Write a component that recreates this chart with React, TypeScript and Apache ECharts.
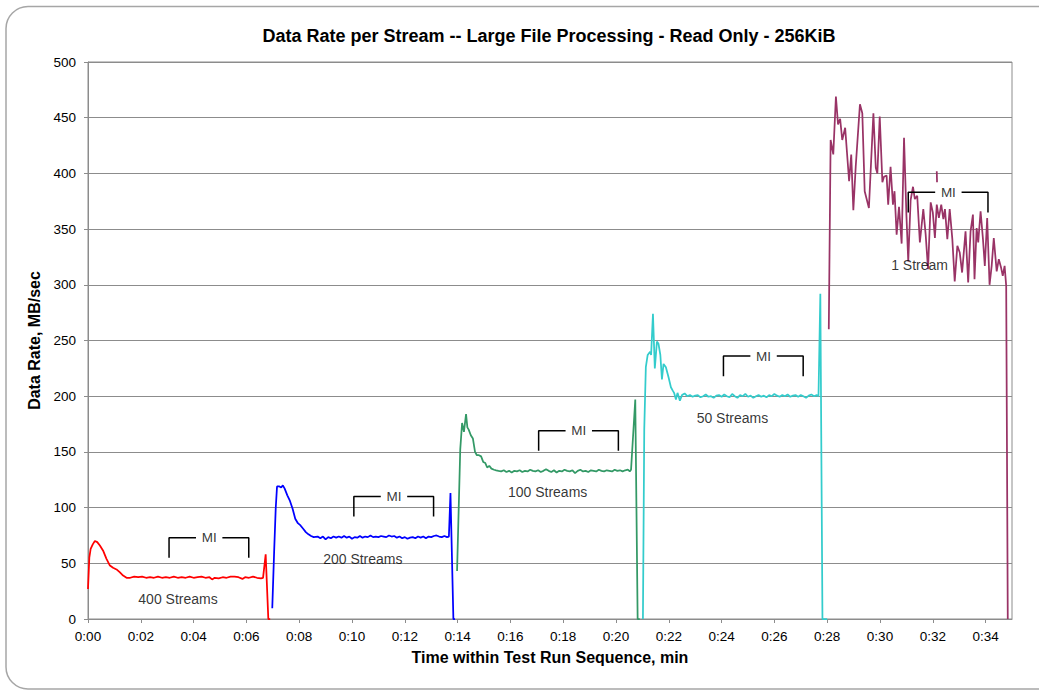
import React, { useEffect, useRef } from "react";
import * as echarts from "echarts";

const FONT = '"Liberation Sans", Arial, Helvetica, sans-serif';

const titleText = "Data Rate per Stream -- Large File Processing - Read Only - 256KiB";
const xAxisName = "Time within Test Run Sequence, min";
const yAxisName = "Data Rate, MB/sec";

// [time (min), rate (MB/sec)]
const stream400: number[][] = [
  [0, 27], [0.05, 55], [0.1, 63], [0.18, 67], [0.26, 70], [0.35, 69], [0.45, 66], [0.58, 61],
  [0.7, 54], [0.83, 48], [0.95, 46], [1.08, 44.5], [1.2, 42], [1.33, 39], [1.46, 37], [1.6, 37],
  [1.75, 38], [1.9, 37.5], [2.05, 38], [2.2, 37], [2.35, 37.5], [2.5, 37], [2.65, 38], [2.8, 37],
  [2.95, 37.5], [3.1, 37], [3.25, 38], [3.4, 37], [3.55, 37.5], [3.7, 37], [3.85, 38], [4.0, 37],
  [4.15, 37.5], [4.3, 38], [4.45, 37], [4.6, 37.5], [4.7, 35.5], [4.8, 37], [4.95, 36.5],
  [5.1, 37.5], [5.25, 37], [5.4, 38], [5.55, 38], [5.7, 37.5], [5.85, 36], [5.95, 37.5],
  [6.1, 37], [6.25, 38], [6.4, 37], [6.55, 36.5], [6.63, 37], [6.73, 58], [6.83, 0], [6.9, 0],
];

const stream200: number[][] = [
  [6.98, 9.6], [7.05, 60], [7.11, 99], [7.16, 119], [7.25, 119], [7.32, 118], [7.38, 120],
  [7.45, 117], [7.55, 111], [7.65, 106], [7.75, 99], [7.85, 90], [7.95, 86], [8.05, 84],
  [8.15, 81], [8.25, 78], [8.35, 76], [8.45, 74.5], [8.55, 73.5], [8.7, 74], [8.8, 72.5],
  [8.9, 74], [9.0, 71.5], [9.1, 73.5], [9.2, 72.5], [9.3, 74], [9.4, 73], [9.5, 74], [9.6, 73],
  [9.7, 74.5], [9.8, 73], [9.9, 74], [10.0, 72], [10.1, 73.5], [10.2, 73], [10.3, 74.5],
  [10.4, 73], [10.5, 74], [10.6, 73.5], [10.7, 75], [10.8, 73.5], [10.9, 74], [11.0, 73.5],
  [11.1, 74.5], [11.2, 74], [11.3, 73.5], [11.4, 75], [11.5, 74], [11.6, 74.5], [11.7, 73],
  [11.8, 74], [11.9, 72.5], [12.0, 73.5], [12.1, 72], [12.2, 73], [12.3, 73.5], [12.4, 72.5],
  [12.5, 74], [12.6, 73], [12.7, 74], [12.8, 72.5], [12.9, 74], [13.0, 73.5], [13.1, 74.5],
  [13.2, 75], [13.3, 74], [13.4, 73.5], [13.5, 74.5], [13.6, 73.5], [13.67, 74], [13.73, 113],
  [13.84, 0], [13.9, 0],
];

const stream100: number[][] = [
  [13.98, 43], [14.1, 152], [14.17, 176], [14.24, 168], [14.32, 184], [14.37, 172], [14.42, 170],
  [14.5, 165], [14.58, 162], [14.66, 150], [14.73, 147], [14.81, 147], [14.89, 146], [14.97, 141],
  [15.05, 140], [15.12, 136], [15.2, 137.5], [15.28, 135], [15.38, 134], [15.46, 133.5],
  [15.55, 133], [15.65, 132.5], [15.75, 133.5], [15.85, 132], [15.95, 133], [16.05, 131.5],
  [16.15, 133], [16.25, 132.5], [16.35, 133.5], [16.45, 132], [16.55, 133], [16.65, 132.5],
  [16.75, 134], [16.85, 133], [16.95, 132.5], [17.05, 133.5], [17.15, 132], [17.25, 133],
  [17.35, 134.5], [17.45, 133], [17.55, 132], [17.65, 133.5], [17.75, 131.5], [17.85, 133],
  [17.95, 132.5], [18.05, 134], [18.15, 133], [18.25, 132.5], [18.35, 133.5], [18.45, 131],
  [18.55, 133], [18.65, 134], [18.75, 132.5], [18.85, 133], [18.95, 132], [19.05, 133.5],
  [19.15, 133], [19.25, 132.5], [19.35, 134], [19.45, 133], [19.55, 132.5], [19.65, 133.5],
  [19.75, 133], [19.85, 132.5], [19.95, 134], [20.05, 133], [20.15, 133.5], [20.25, 132.5],
  [20.35, 133.5], [20.45, 134], [20.52, 132.5], [20.57, 134], [20.73, 197], [20.82, 0], [20.9, 0],
];

const stream50: number[][] = [
  [21.02, 0], [21.07, 170], [21.13, 226], [21.2, 237], [21.29, 240], [21.33, 237], [21.4, 274],
  [21.47, 225], [21.55, 249], [21.61, 247], [21.68, 237], [21.74, 215], [21.8, 229], [21.89, 226],
  [21.99, 217], [22.08, 208], [22.15, 205], [22.2, 203], [22.27, 197], [22.33, 203], [22.42, 196],
  [22.5, 201], [22.6, 202.5], [22.7, 200], [22.8, 201], [22.9, 199.5], [23.0, 200.5], [23.1, 201],
  [23.2, 199], [23.3, 200], [23.4, 201.5], [23.5, 199.5], [23.6, 200], [23.7, 198.5], [23.8, 200.5],
  [23.9, 201], [24.0, 199.5], [24.1, 201.5], [24.2, 200], [24.3, 199], [24.4, 202], [24.5, 200],
  [24.6, 198.5], [24.7, 201], [24.8, 200], [24.9, 202], [25.0, 199.5], [25.1, 200.5], [25.2, 198.5],
  [25.3, 200], [25.4, 201], [25.5, 199.5], [25.6, 200.5], [25.7, 199], [25.8, 201], [25.9, 200],
  [26.0, 202], [26.1, 200.5], [26.2, 199.5], [26.3, 201], [26.4, 200], [26.5, 201.5], [26.6, 199.5],
  [26.7, 200.5], [26.8, 201], [26.9, 199.5], [27.0, 201], [27.1, 200], [27.2, 198.5], [27.3, 200.5],
  [27.4, 201.5], [27.5, 200], [27.6, 201], [27.67, 200], [27.74, 292], [27.82, 0], [28.0, 0],
];

const stream1: number[][] = [
  [28.06, 260], [28.13, 430], [28.23, 417], [28.33, 469], [28.41, 444], [28.49, 449], [28.57, 430],
  [28.68, 441], [28.83, 393], [28.91, 417], [28.99, 367], [29.08, 406], [29.24, 462], [29.33, 454],
  [29.42, 384], [29.58, 369], [29.75, 454], [29.84, 405], [29.9, 400], [29.99, 451], [30.09, 392],
  [30.15, 397], [30.25, 398], [30.31, 372], [30.4, 406], [30.49, 372], [30.55, 384], [30.63, 345],
  [30.72, 370], [30.82, 337], [30.91, 432], [31.0, 363], [31.07, 321], [31.16, 376], [31.25, 388],
  [31.32, 377], [31.41, 380], [31.51, 338], [31.64, 368], [31.73, 345], [31.82, 314], [31.92, 374],
  [32.0, 365], [32.08, 342], [32.15, 372], [32.23, 360], [32.32, 372], [32.4, 359], [32.46, 368],
  [32.55, 341], [32.64, 368], [32.74, 341], [32.83, 303], [32.93, 335], [33.02, 329], [33.11, 311],
  [33.24, 348], [33.34, 302], [33.43, 348], [33.52, 363], [33.58, 305], [33.66, 351], [33.72, 338],
  [33.81, 366], [33.9, 341], [33.97, 317], [34.06, 360], [34.15, 300], [34.23, 317], [34.31, 342],
  [34.42, 312], [34.5, 323], [34.59, 315], [34.65, 308], [34.72, 317], [34.78, 299], [34.84, 0],
];

const stream1Fragment: number[][] = [[32.15, 402], [32.16, 392]];

// Measurement-interval (MI) windows
const miStarts = [3.07, 10.07, 17.07, 24.07, 31.07];
const miTops = [73, 110, 169, 236, 383];
const miLength = 3.02;
const miDepth = 18;
const miGapFrom = 1.02; // gap in the bracket's top line, where "MI" sits
const miGapTo = 2.02;

// stream count labels
const streamNames = ["400 Streams", "200 Streams", "100 Streams", "50 Streams", "1 Stream"];
const streamLabelTimes = [3.41, 10.41, 17.41, 24.41, 31.5];
const streamLabelRates = [18, 54, 114, 180, 318];

const xTickPad = (v: number) => "0:" + String(Math.round(v)).padStart(2, "0");

export default function App() {
  const ref = useRef<HTMLDivElement>(null);

  useEffect(() => {
    document.body.style.margin = "0";
    if (!ref.current) return;
    const chart = echarts.init(ref.current, null, { renderer: "svg" });

    const lineSeries = (data: number[][], color: string) => ({
      type: "line",
      data,
      showSymbol: false,
      symbol: "none",
      lineStyle: { color, width: 1.75 },
      itemStyle: { color },
      silent: true,
      z: 2,
    });

    const bracketLine = (data: number[][]) => ({
      type: "line",
      data,
      showSymbol: false,
      symbol: "none",
      lineStyle: { color: "#000", width: 1.5 },
      silent: true,
      z: 3,
    });

    const bracketSeries: any[] = [];
    miStarts.forEach((s, i) => {
      const top = miTops[i];
      const bottom = top - miDepth;
      bracketSeries.push(
        bracketLine([
          [s, bottom],
          [s, top],
          [s + miGapFrom, top],
        ])
      );
      bracketSeries.push(
        bracketLine([
          [s + miGapTo, top],
          [s + miLength, top],
          [s + miLength, bottom],
        ])
      );
    });

    const option: any = {
      animation: false,
      backgroundColor: "#fff",
      title: {
        text: titleText,
        left: 544,
        top: 22,
        textAlign: "center",
        textStyle: { fontFamily: FONT, fontSize: 18, fontWeight: "bold", color: "#000" },
      },
      grid: {
        left: 88,
        right: 27,
        top: 62,
        bottom: 71,
        show: true,
        borderColor: "#8c8c8c",
        borderWidth: 1,
      },
      xAxis: {
        type: "value",
        min: 0,
        max: 35,
        interval: 2,
        name: xAxisName,
        nameLocation: "middle",
        nameGap: 30,
        nameTextStyle: { fontFamily: FONT, fontSize: 16, fontWeight: "bold", color: "#000" },
        axisLine: { show: true, lineStyle: { color: "#8c8c8c", width: 1 } },
        axisTick: { show: true, inside: false, length: 4, lineStyle: { color: "#8c8c8c" } },
        axisLabel: {
          fontFamily: FONT,
          fontSize: 13.5,
          color: "#000",
          margin: 10,
          showMaxLabel: false,
          formatter: (v: number) => xTickPad(v),
        },
        splitLine: { show: false },
      },
      yAxis: {
        type: "value",
        min: 0,
        max: 500,
        interval: 50,
        name: yAxisName,
        nameLocation: "middle",
        nameGap: 43,
        nameTextStyle: { fontFamily: FONT, fontSize: 16, fontWeight: "bold", color: "#000" },
        axisLine: { show: true, lineStyle: { color: "#8c8c8c", width: 1 } },
        axisTick: { show: true, inside: false, length: 4, lineStyle: { color: "#8c8c8c" } },
        axisLabel: { fontFamily: FONT, fontSize: 13.5, color: "#000", margin: 12 },
        splitLine: { show: true, lineStyle: { color: "#8c8c8c", width: 1 } },
      },
      graphic: [
        {
          type: "rect",
          shape: { x: 6, y: 6.5, width: 1060, height: 682.5, r: 22 },
          style: { fill: "none", stroke: "#a6a6a6", lineWidth: 1.5 },
          silent: true,
          z: 100,
        },
      ],
      series: [
        lineSeries(stream400, "#ff0000"),
        lineSeries(stream200, "#0000ff"),
        lineSeries(stream100, "#339966"),
        lineSeries(stream50, "#33cccc"),
        lineSeries(stream1, "#993366"),
        lineSeries(stream1Fragment, "#993366"),
        ...bracketSeries,
        {
          type: "scatter",
          data: miStarts.map((s, i) => [s + (miGapFrom + miGapTo) / 2, miTops[i]]),
          symbolSize: 0,
          silent: true,
          z: 4,
          label: {
            show: true,
            position: "inside",
            formatter: "MI",
            fontFamily: FONT,
            fontSize: 13.5,
            color: "#000",
          },
        },
        {
          type: "scatter",
          data: streamNames.map((n, i) => ({ name: n, value: [streamLabelTimes[i], streamLabelRates[i]] })),
          symbolSize: 0,
          silent: true,
          z: 4,
          label: {
            show: true,
            position: "inside",
            formatter: (p: any) => p.name,
            fontFamily: FONT,
            fontSize: 14,
            color: "#000",
          },
        },
      ],
    };

    chart.setOption(option);
    return () => chart.dispose();
  }, []);

  return <div ref={ref} style={{ width: 1039, height: 690 }} />;
}
